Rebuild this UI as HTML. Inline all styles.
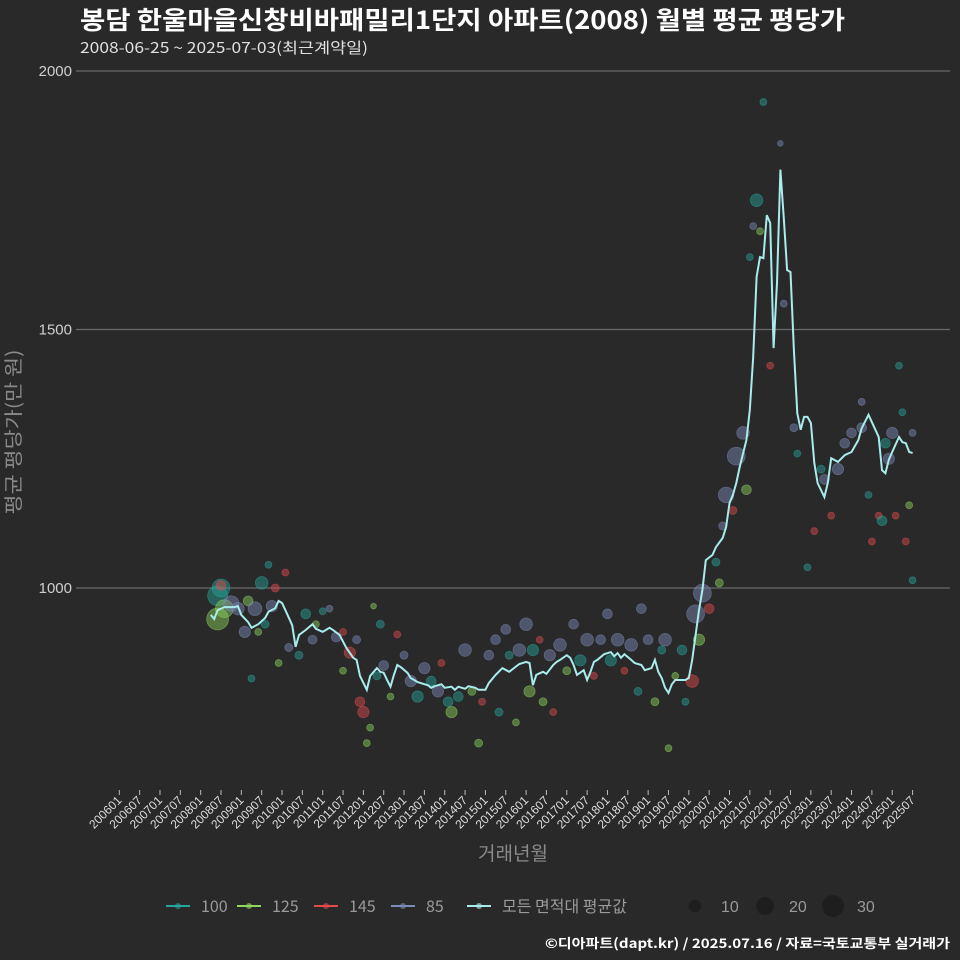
<!DOCTYPE html>
<html><head><meta charset="utf-8">
<style>
html,body{margin:0;padding:0;background:#2a292a;}
svg{display:block;font-family:"Liberation Sans","Noto Sans CJK KR",sans-serif;}
.kr{font-family:"Noto Sans CJK KR","Liberation Sans",sans-serif;}
</style></head>
<body>
<svg id="chart" width="960" height="960" viewBox="0 0 960 960">
<rect x="0" y="0" width="960" height="960" fill="#2a292a"/>
<text class="kr" x="80" y="29" fill="#ffffff" font-size="25" font-weight="bold" textLength="765" lengthAdjust="spacingAndGlyphs">봉담 한울마을신창비바패밀리1단지 아파트(2008) 월별 평균 평당가</text>
<text class="kr" x="80" y="53" fill="#e0e0e0" font-size="15" textLength="288" lengthAdjust="spacingAndGlyphs">2008-06-25 ~ 2025-07-03(최근계약일)</text>
<g id="grid"></g>
<g id="yticks"></g>
<g id="xticks"></g>
<g id="points"></g>
<path id="avgline" fill="none" stroke="#a8ecec" stroke-width="2"/>
<text class="kr" x="20" y="432" fill="#8a8a8a" font-size="19" text-anchor="middle" textLength="165" lengthAdjust="spacingAndGlyphs" transform="rotate(-90 20 432)">평균 평당가(만 원)</text>
<text class="kr" x="513" y="860" fill="#8a8a8a" font-size="19" text-anchor="middle">거래년월</text>
<g id="legend"></g>
<text class="kr" x="950" y="948" fill="#ffffff" font-size="13" font-weight="bold" text-anchor="end" textLength="405" lengthAdjust="spacingAndGlyphs">©디아파트(dapt.kr) / 2025.07.16 / 자료=국토교통부 실거래가</text>
</svg>
<script>
// month index from 2006-01
const avgMonths = [27,28,29,31,34,35,36,38,39,41,43,44,46,47,48,49,51,52,53,55,57,58,60,62,63,65,67,69,70,71,73,74,76,77,78,79,80,81,82,83,85,86,88,90,91,92,93,95,96,98,99,100,102,103,105,106,108,109,111,113,115,118,120,121,122,123,125,126,128,129,130,132,133,134,135,137,138,139,140,141,143,145,146,147,148,149,151,152,154,155,157,158,159,160,161,162,163,164,165,167,168,169,170,171,172,173,175,176,178,179,180,181,182,183,185,186,187,188,189,190,191,192,193,194,195,196,197,198,199,200,201,202,203,204,205,206,208,209,210,212,214,216,218,219,221,224,225,226,227,228,230,231,232,233,234];
const avgValues = [948,940,957,963,963,965,948,934,923,930,942,954,961,975,971,957,928,886,909,919,930,921,915,923,919,909,884,865,861,830,803,830,845,838,836,822,809,832,851,847,836,826,818,814,812,807,810,814,807,809,803,809,805,810,807,803,803,816,832,845,838,853,857,855,812,832,838,834,851,857,861,870,865,851,832,841,822,838,857,861,872,876,868,874,865,872,861,855,851,841,845,861,838,826,807,797,814,822,822,822,826,861,909,957,996,1054,1064,1079,1097,1118,1164,1180,1203,1234,1286,1344,1447,1602,1640,1638,1721,1706,1464,1590,1809,1718,1615,1611,1460,1338,1306,1331,1331,1319,1242,1203,1176,1203,1251,1244,1257,1263,1286,1309,1335,1292,1228,1222,1248,1263,1292,1282,1280,1263,1261,1230];
const ptMonths = [29,30,29,31,30,33,35,37,38,40,42,41,39,44,46,45,43,47,50,49,53,55,57,58,60,62,64,66,66,68,70,71,72,73,74,75,76,77,78,80,82,84,86,88,90,92,94,95,97,98,100,102,104,106,107,109,111,112,114,115,117,118,120,121,122,124,125,127,128,130,132,134,136,138,140,142,144,145,147,149,151,153,154,156,158,160,161,162,164,166,167,169,170,171,172,174,176,177,178,179,181,182,184,185,186,187,188,189,190,192,195,196,199,200,203,205,207,208,210,212,214,216,219,219,221,222,224,225,226,227,228,229,230,231,232,233,234,234];
const ptValues = [985,1000,940,960,1005,970,960,915,975,960,1010,915,825,1045,1000,965,930,855,885,1030,870,950,900,930,955,960,905,915,840,875,900,780,760,700,730,965,830,930,850,790,910,870,820,790,845,820,800,855,780,760,790,880,800,700,780,870,900,760,920,870,740,880,930,800,880,900,780,870,760,890,840,930,860,900,830,900,950,860,900,840,890,800,960,900,780,880,900,690,830,880,780,820,950,900,990,960,1050,1010,1120,1180,1150,1255,1300,1190,1640,1700,1750,1690,1940,1430,1860,1550,1310,1260,1040,1110,1230,1210,1140,1230,1280,1300,1310,1360,1180,1090,1140,1130,1280,1250,1300,1140,1430,1340,1090,1160,1300,1015];
const ptSeries = ["100","100","125","125","145","85","85","85","125","85","100","125","100","100","145","85","100","125","85","145","100","100","85","125","100","85","85","145","125","145","85","145","145","125","125","125","100","100","85","125","145","85","85","100","85","100","85","145","100","125","100","85","125","125","145","85","85","100","85","100","125","85","85","125","100","145","125","85","145","85","125","85","100","85","145","85","85","100","85","145","85","100","85","85","125","100","85","125","125","100","100","145","85","125","85","145","100","125","85","85","145","85","85","125","100","85","100","125","100","145","85","85","85","100","100","145","100","85","145","85","85","85","85","85","100","145","145","100","100","85","85","145","100","100","145","125","85","100"];
const ptCounts = [25,20,30,20,6,15,10,8,6,12,10,3,3,3,4,8,4,3,4,3,4,6,5,3,3,3,6,3,3,8,4,6,8,3,3,2,4,4,6,3,3,4,8,8,8,6,8,3,6,8,6,10,4,4,3,6,6,4,6,4,3,10,10,8,8,3,4,8,3,10,4,6,8,10,3,6,6,8,10,3,10,4,6,6,4,4,10,3,3,6,3,10,20,8,20,6,4,4,4,15,4,20,10,6,3,3,10,3,3,3,2,3,4,3,3,3,4,6,3,8,6,6,6,3,3,3,3,6,6,8,8,3,3,3,3,3,3,3];
const yTicks = [1000,1500,2000];
const xTickLabels = [];
for (let y = 2006; y <= 2025; y++) { xTickLabels.push(y + "01"); xTickLabels.push(y + "07"); }
const seriesColors = {"100":"#26a69a","125":"#8ed65e","145":"#e34b4b","85":"#7d8bb8"};
const sizeLegend = [10,20,30];

const NS = "http://www.w3.org/2000/svg";
function xScale(m){ return 119.3 + m*3.39; }
function yScale(v){ return 588 - (v-1000)*0.517; }
function rScale(n){ return Math.sqrt(n)*2; }
function mk(tag, attrs, parent){ const e=document.createElementNS(NS,tag); for(const k in attrs) e.setAttribute(k,attrs[k]); parent.appendChild(e); return e; }

const grid=document.getElementById('grid'), yt=document.getElementById('yticks'), xt=document.getElementById('xticks');
yTicks.forEach(v=>{
  const l=mk('line',{x1:76,x2:950,y1:yScale(v),y2:yScale(v),stroke:'#6a6a6a','stroke-width':1.2},grid);
  
  
  const t=mk('text',{x:72,y:yScale(v)+5,fill:'#cfcfcf','font-size':15,'text-anchor':'end'},yt);
  t.textContent=v;
  
  
});
xTickLabels.forEach((lab,i)=>{
  const x=xScale(i*6);
  const tk=mk('line',{x1:x,x2:x,y1:790,y2:795,stroke:'#bbbbbb','stroke-width':1},xt);
  
  
  const t=mk('text',{x:x+3,y:801,fill:'#dddddd','font-size':12,'text-anchor':'end',transform:'rotate(-45 '+(x+3)+' 801)'},xt);
  t.textContent=lab;
  
  
});
const pts=document.getElementById('points');
ptMonths.forEach((m,i)=>{
  const col=seriesColors[ptSeries[i]];
  const c=mk('circle',{cx:xScale(m),cy:yScale(ptValues[i]),r:rScale(ptCounts[i]),fill:col,'fill-opacity':0.45,stroke:col,'stroke-opacity':0.5,'stroke-width':0.8},pts);
  
  
});
let d='';
avgMonths.forEach((m,i)=>{ d+=(i?'L':'M')+xScale(m).toFixed(1)+','+yScale(avgValues[i]).toFixed(1); });
document.getElementById('avgline').setAttribute('d',d);

const lg=document.getElementById('legend');
const legItems=[["100","#26a69a",166],["125","#8ed65e",237],["145","#e34b4b",314],["85","#7d8bb8",391],["모든 면적대 평균값","#a8ecec",467]];
legItems.forEach(([lab,col,x])=>{
  const g=mk('g',{},lg);
  
  
  mk('line',{x1:x,x2:x+24,y1:906,y2:906,stroke:col,'stroke-width':2},g);
  mk('circle',{cx:x+12,cy:906,r:3,fill:col,'fill-opacity':0.6},g);
  const t=mk('text',{x:x+35,y:912,fill:'#9a9a9a','font-size':16,'class':'kr'},g);
  t.textContent=lab;
});
const sizeX=[695,765,833];
sizeLegend.forEach((n,i)=>{
  const x=sizeX[i];
  const g=mk('g',{},lg);
  
  
  mk('circle',{cx:x,cy:906,r:rScale(n),fill:'#1f1e1f'},g);
  const t=mk('text',{x:x+(i===0?26:24),y:912,fill:'#9a9a9a','font-size':16},g);
  t.textContent=n;
});
</script>
</body></html>
